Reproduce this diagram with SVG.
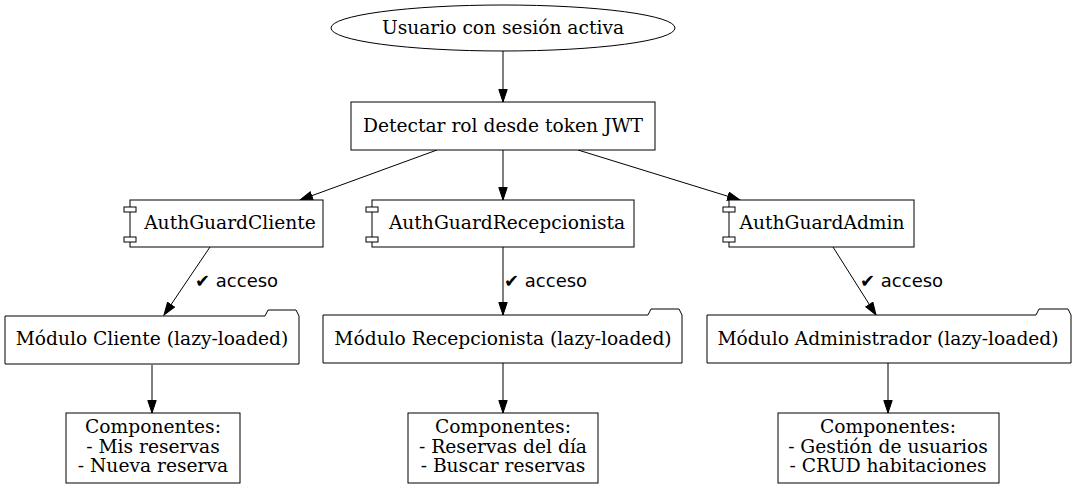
<svg xmlns="http://www.w3.org/2000/svg" width="1075" height="489" viewBox="0 0 1075 489">
<defs>
<marker id="arr" markerWidth="14" markerHeight="11" refX="13" refY="4.7" orient="auto" markerUnits="userSpaceOnUse">
<path d="M0.5,0.5 L13,4.7 L0.5,8.9 Z" fill="#000" stroke="#000"/>
</marker>
<style>
.n{fill:#fff;stroke:#000;stroke-width:1}
.t{font-family:"DejaVu Serif",serif;font-size:18.67px;fill:#000;text-anchor:middle}
.l{font-family:"DejaVu Sans",sans-serif;font-size:18px;fill:#000}
.e{stroke:#000;stroke-width:1;fill:none;marker-end:url(#arr)}
</style>
</defs>
<rect width="1075" height="489" fill="#fff"/>
<g id="edges">
<line class="e" x1="503" y1="51" x2="503" y2="102"/>
<line class="e" x1="437" y1="150" x2="300" y2="200"/>
<line class="e" x1="503" y1="150" x2="503" y2="200"/>
<line class="e" x1="578" y1="150" x2="740" y2="200"/>
<line class="e" x1="210" y1="247" x2="164" y2="315"/>
<text class="l" x="195" y="287">✔ acceso</text>
<line class="e" x1="503" y1="247" x2="503" y2="315"/>
<text class="l" x="504" y="287">✔ acceso</text>
<line class="e" x1="833" y1="247" x2="876" y2="315"/>
<text class="l" x="860" y="287">✔ acceso</text>
<line class="e" x1="152" y1="365" x2="152" y2="413"/>
<line class="e" x1="503" y1="363" x2="503" y2="413"/>
<line class="e" x1="888" y1="363" x2="888" y2="413"/>
</g>
<g id="start">
<ellipse class="n" cx="503" cy="28" rx="172" ry="23"/>
<text class="t" x="503" y="34">Usuario con sesión activa</text>
</g>
<g id="detect">
<rect class="n" x="351" y="102" width="304" height="48"/>
<text class="t" x="503" y="132">Detectar rol desde token JWT</text>
</g>
<g id="guardCliente">
<rect class="n" x="130" y="200" width="193" height="47"/>
<rect class="n" x="124" y="207" width="12" height="5"/>
<rect class="n" x="124" y="237" width="12" height="5"/>
<text class="t" x="230" y="229">AuthGuardCliente</text>
</g>
<g id="guardRecep">
<rect class="n" x="372" y="200" width="262" height="47"/>
<rect class="n" x="366" y="207" width="12" height="5"/>
<rect class="n" x="366" y="237" width="12" height="5"/>
<text class="t" x="507" y="229">AuthGuardRecepcionista</text>
</g>
<g id="guardAdmin">
<rect class="n" x="729" y="200" width="185" height="47"/>
<rect class="n" x="723" y="207" width="12" height="5"/>
<rect class="n" x="723" y="237" width="12" height="5"/>
<text class="t" x="822" y="229">AuthGuardAdmin</text>
</g>
<g id="modCliente">
<path class="n" d="M5,316 L265,316 L268,310 L296,310 L299,316 L299,364 L5,364 Z"/>
<text class="t" x="152" y="345">Módulo Cliente (lazy-loaded)</text>
</g>
<g id="modRecep">
<path class="n" d="M323,315 L648,315 L651,309 L679,309 L682,315 L682,363 L323,363 Z"/>
<text class="t" x="503" y="345">Módulo Recepcionista (lazy-loaded)</text>
</g>
<g id="modAdmin">
<path class="n" d="M707,315 L1036,315 L1039,309 L1068,309 L1071,315 L1071,363 L707,363 Z"/>
<text class="t" x="888" y="345">Módulo Administrador (lazy-loaded)</text>
</g>
<g id="compCliente">
<rect class="n" x="66" y="413" width="174" height="70"/>
<text class="t" x="153" y="433">Componentes:</text>
<text class="t" x="153" y="452.5">- Mis reservas</text>
<text class="t" x="153" y="472">- Nueva reserva</text>
</g>
<g id="compRecep">
<rect class="n" x="408" y="413" width="190" height="70"/>
<text class="t" x="503" y="433">Componentes:</text>
<text class="t" x="503" y="452.5">- Reservas del día</text>
<text class="t" x="503" y="472">- Buscar reservas</text>
</g>
<g id="compAdmin">
<rect class="n" x="778" y="413" width="221" height="70"/>
<text class="t" x="888" y="433">Componentes:</text>
<text class="t" x="888" y="452.5">- Gestión de usuarios</text>
<text class="t" x="888" y="472">- CRUD habitaciones</text>
</g>
</svg>
